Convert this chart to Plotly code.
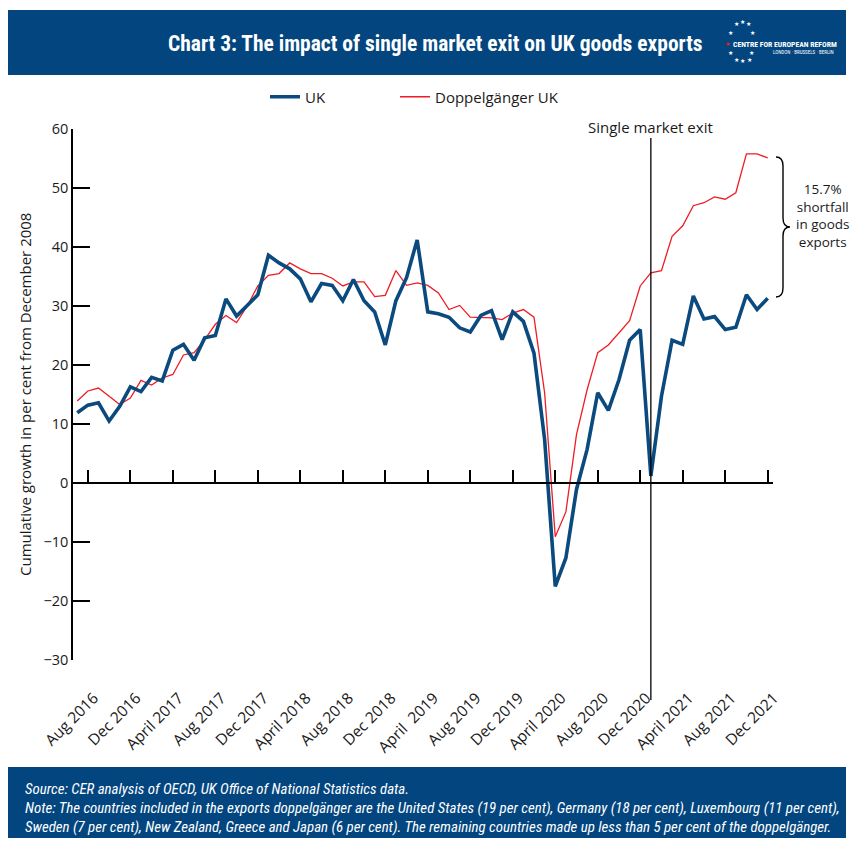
import plotly.graph_objects as go

# Monthly series, July 2016 to December 2021 (cumulative % growth since Dec 2008)
uk = [
    11.9, 13.2, 13.6, 10.5, 13.0, 16.3, 15.5, 17.9, 17.3, 22.5,
    23.5, 20.8, 24.6, 25.0, 31.2, 28.3, 30.1, 31.9, 38.6, 37.3,
    36.3, 34.6, 30.7, 33.8, 33.5, 30.9, 34.5, 30.9, 29.0, 23.4,
    30.9, 34.8, 41.2, 29.0, 28.7, 28.1, 26.3, 25.6, 28.4, 29.2,
    24.3, 29.0, 27.4, 22.0, 7.4, -17.5, -12.7, -1.1, 5.7, 15.3,
    12.3, 17.5, 24.2, 26.0, 1.2, 14.7, 24.2, 23.5, 31.7, 27.8,
    28.2, 26.0, 26.4, 31.9, 29.4, 31.3,
]
doppelganger = [
    13.9, 15.6, 16.1, 14.7, 13.3, 14.4, 17.4, 16.6, 17.8, 18.4,
    21.7, 22.1, 24.3, 26.9, 28.4, 27.2, 30.0, 33.4, 35.2, 35.5,
    37.3, 36.3, 35.5, 35.5, 34.7, 33.4, 34.1, 34.1, 31.6, 31.8,
    36.0, 33.5, 33.9, 33.5, 32.2, 29.4, 30.1, 28.1, 28.1, 28.0,
    27.7, 28.8, 29.4, 28.1, 15.3, -9.1, -4.9, 8.2, 15.8, 22.1,
    23.4, 25.5, 27.5, 33.4, 35.6, 36.0, 41.8, 43.6, 47.0, 47.5,
    48.5, 48.1, 49.2, 55.8, 55.8, 55.1,
]
months = list(range(len(uk)))

tick_months = list(range(1, 66, 4))
tick_labels = ["Aug 2016", "Dec 2016", "April 2017", "Aug 2017", "Dec 2017",
               "April 2018", "Aug 2018", "Dec 2018", "April\u00a0 2019", "Aug 2019",
               "Dec 2019", "April 2020", "Aug 2020", "Dec 2020", "April 2021",
               "Aug 2021", "Dec 2021"]
y_ticks = [-30, -20, -10, 0, 10, 20, 30, 40, 50, 60]
exit_month = 54
shortfall_text = "15.7%<br>shortfall<br>in goods<br>exports"

W, H = 853, 844
L, R, T, B = 73, 80, 129, 184
PW, PH = W - L - R, H - T - B


def px(x):
    return (x - L) / PW


def py(y):
    return (H - B - y) / PH


NAVY = "#03467f"
BLUE = "#0b4a7e"
RED = "#ee1c25"
FONT = "Open Sans, Roboto, sans-serif"
NARROW = "Liberation Sans Narrow, Roboto Condensed, Roboto, sans-serif"

fig = go.Figure()
fig.add_trace(go.Scatter(x=months, y=doppelganger, mode="lines", name="Doppelgänger UK",
                         line=dict(color=RED, width=1.3), xaxis="x", yaxis="y",
                         legend="legend2"))
fig.add_trace(go.Scatter(x=months, y=uk, mode="lines", name="UK",
                         line=dict(color=BLUE, width=3.6), xaxis="x2", yaxis="y",
                         legend="legend"))

legend_style = dict(orientation="h", xanchor="left", yanchor="middle",
                    font=dict(size=15, family=FONT), bgcolor="rgba(0,0,0,0)")
xr = [-0.4, 65.5]
fig.update_layout(
    width=W, height=H, autosize=False,
    margin=dict(l=L, r=R, t=T, b=B),
    paper_bgcolor="white", plot_bgcolor="white",
    font=dict(family=FONT, color="#1a1a1a", size=14),
    showlegend=True,
    legend=dict(x=px(265), y=py(97), **legend_style),
    legend2=dict(x=px(395), y=py(97), **legend_style),
    xaxis=dict(range=xr, tickvals=tick_months, ticktext=tick_labels, tickangle=-45,
               showline=False, ticks="", showgrid=False, zeroline=False,
               tickfont=dict(size=15.5, family=FONT), ticklabelstandoff=25,
               ticklabelshift=6),
    xaxis2=dict(range=xr, matches="x", overlaying="x", anchor="free", position=30 / 90,
                side="bottom", showline=True, linecolor="black", linewidth=1.5,
                ticks="inside", ticklen=12, tickwidth=1.5, tickcolor="black",
                tickvals=tick_months, showticklabels=False, showgrid=False, zeroline=False),
    yaxis=dict(range=[-30, 60], tickvals=y_ticks, showline=True, linecolor="black",
               linewidth=1.5, ticks="inside", ticklen=17, tickwidth=1.5, tickcolor="black",
               showgrid=False, zeroline=False, tickfont=dict(size=14.5, family=FONT)),
)

shapes = [
    dict(type="rect", xref="paper", yref="paper", x0=px(8), x1=px(846), y0=py(75), y1=py(10),
         fillcolor=NAVY, line=dict(width=0), layer="below"),
    dict(type="rect", xref="paper", yref="paper", x0=px(8), x1=px(846), y0=py(838), y1=py(767),
         fillcolor=NAVY, line=dict(width=0), layer="below"),
    dict(type="line", xref="x", yref="paper", x0=exit_month, x1=exit_month,
         y0=py(700), y1=py(138), line=dict(color="black", width=1.3)),
]

# curly brace spanning the gap at the final month
brace_pts = [(776, 157), (783, 157), (783, 166), (783, 218), (783, 227), (790, 227),
             (783, 227), (783, 236), (783, 288), (783, 297), (776, 297)]
p = [(px(a), py(b)) for a, b in brace_pts]
path = (f"M {p[0][0]},{p[0][1]} Q {p[1][0]},{p[1][1]} {p[2][0]},{p[2][1]} "
        f"L {p[3][0]},{p[3][1]} Q {p[4][0]},{p[4][1]} {p[5][0]},{p[5][1]} "
        f"Q {p[6][0]},{p[6][1]} {p[7][0]},{p[7][1]} L {p[8][0]},{p[8][1]} "
        f"Q {p[9][0]},{p[9][1]} {p[10][0]},{p[10][1]}")
shapes.append(dict(type="path", xref="paper", yref="paper", path=path,
                   line=dict(color="black", width=1.4)))
fig.update_layout(shapes=shapes)

ann = []
ann.append(dict(text="<b>Chart 3: The impact of single market exit on UK goods exports</b>",
                x=px(435), y=py(43), xref="paper", yref="paper", showarrow=False,
                xanchor="center", yanchor="middle",
                font=dict(size=21.5, color="white", family=NARROW)))
# logo
stars = [(736.7, 24), (742.3, 22), (748.3, 24), (730, 32.5), (752, 32.5),
         (730, 53.5), (751, 53), (736.7, 59.5), (742.3, 61.5), (749, 59.5)]
for sx, sy in stars:
    ann.append(dict(text="★", x=px(sx), y=py(sy), xref="paper", yref="paper", showarrow=False,
                    xanchor="center", yanchor="middle", font=dict(size=5.5, color="white")))
ann.append(dict(text="★", x=px(727), y=py(44), xref="paper", yref="paper", showarrow=False,
                xanchor="center", yanchor="middle", font=dict(size=5.5, color="#e2231a")))
ann.append(dict(text="<b>CENTRE FOR EUROPEAN REFORM</b>", x=px(731), y=py(44),
                xref="paper", yref="paper", showarrow=False, xanchor="left", yanchor="middle",
                font=dict(size=7.7, color="white", family=NARROW)))
ann.append(dict(text="LONDON <span style='color:#e2231a'>•</span> BRUSSELS "
                     "<span style='color:#e2231a'>•</span> BERLIN",
                x=px(836), y=py(52.5), xref="paper", yref="paper", showarrow=False,
                xanchor="right", yanchor="middle",
                font=dict(size=5, color="white", family=NARROW)))

ann.append(dict(text="Single market exit", x=exit_month, y=py(127), xref="x", yref="paper",
                showarrow=False, xanchor="center", yanchor="middle",
                font=dict(size=15, family=FONT)))
ann.append(dict(text=shortfall_text, x=px(822), y=py(215), xref="paper", yref="paper",
                showarrow=False, xanchor="center", yanchor="middle", align="center",
                font=dict(size=13.5, family=FONT)))
ann.append(dict(text="Cumulative growth in per cent from December 2008", x=px(25), y=py(395),
                xref="paper", yref="paper", showarrow=False, textangle=-90,
                xanchor="center", yanchor="middle", font=dict(size=15, family=FONT)))

footer = [
    "Source: CER analysis of OECD, UK Office of National Statistics data.",
    "Note: The countries included in the exports doppelgänger are the United States (19 per cent), "
    "Germany (18 per cent), Luxembourg (11 per cent),",
    "Sweden (7 per cent), New Zealand, Greece and Japan (6 per cent). The remaining countries "
    "made up less than 5 per cent of the doppelgänger.",
]
for i, line in enumerate(footer):
    ann.append(dict(text=f"<i>{line}</i>", x=px(23), y=py(789 + 19 * i), xref="paper",
                    yref="paper", showarrow=False, xanchor="left", yanchor="middle",
                    font=dict(size=14.9, color="white", family=NARROW)))
fig.update_layout(annotations=ann)

fig.write_html("out.html")
